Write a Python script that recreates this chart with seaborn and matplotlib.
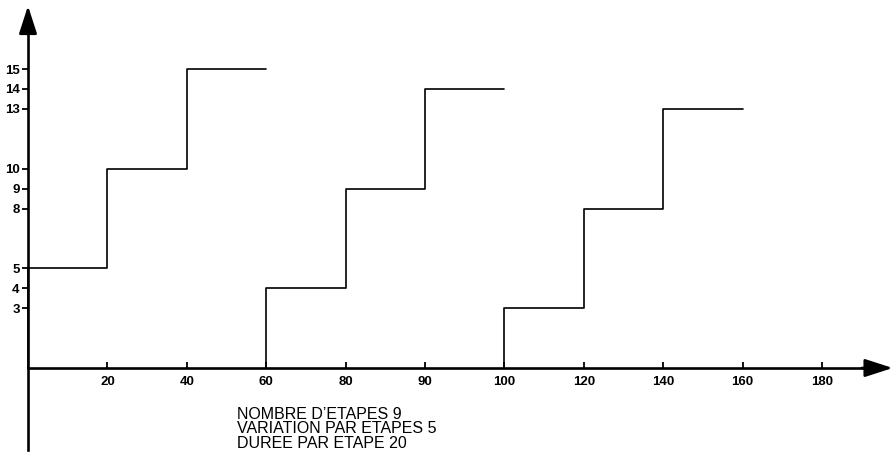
import pandas as pd
import seaborn as sns
import matplotlib.pyplot as plt

# Step data: start of each step and the level held during it
step_starts = [0, 20, 40, 60, 80, 100, 120, 140, 160]
step_levels = [5, 10, 15, 4, 9, 14, 3, 8, 13]
step_group = [1, 1, 1, 2, 2, 2, 3, 3, 3]
step_width = 20

x_ticks = [20, 40, 60, 80, 100, 120, 140, 160, 180, 200]
x_tick_labels = ['20', '40', '60', '80', '90', '100', '120', '140', '160', '180']
y_ticks = [3, 4, 5, 8, 9, 10, 13, 14, 15]

notes = ["NOMBRE D\u2019ETAPES 9", "VARIATION PAR ETAPES 5", "DUREE PAR ETAPE 20"]

sns.set_theme(style='white')
plt.rcParams['font.family'] = ['Liberation Sans', 'DejaVu Sans']

fig = plt.figure(figsize=(8.93, 4.65), dpi=100)
ax = fig.add_axes([0, 0, 1, 1])

# build one staircase per group (rise from 0, then steps, then hold last level)
steps = pd.DataFrame({'start': step_starts, 'level': step_levels, 'group': step_group})
for g, sub in steps.groupby('group'):
    xs = [sub['start'].iloc[0]] + list(sub['start']) + [sub['start'].iloc[-1] + step_width]
    ys = [0] + list(sub['level']) + [sub['level'].iloc[-1]]
    df = pd.DataFrame({'x': xs, 'y': ys})
    sns.lineplot(data=df, x='x', y='y', estimator=None, sort=False,
                 drawstyle='steps-post', color='black', lw=1.2, ax=ax)

# map pixels: x=0 at 28px (3.97 px/unit), y=0 at 368px (19.93 px/unit)
ax.set_xlim(-28 / 3.97, (893 - 28) / 3.97)
ax.set_ylim((368 - 465) / 19.93, 368 / 19.93)
ax.set_xlabel('')
ax.set_ylabel('')

for s in ['top', 'right']:
    ax.spines[s].set_visible(False)
ax.spines['left'].set_position(('data', 0))
ax.spines['bottom'].set_position(('data', 0))
ax.spines['left'].set_bounds(-4.1, 17.4)
ax.spines['bottom'].set_bounds(0, 212)
for s in ['left', 'bottom']:
    ax.spines[s].set_linewidth(1.9)
    ax.spines[s].set_color('black')

# arrow heads at the ends of the axes
head = dict(arrowstyle='-|>,head_length=1.7,head_width=0.55',
            color='black', lw=1.9, mutation_scale=10, shrinkA=0, shrinkB=0)
ax.annotate('', xy=(0, 18.17), xytext=(0, 17.0), arrowprops=head)
ax.annotate('', xy=(217.8, 0), xytext=(210, 0), arrowprops=head)

ax.set_xticks(x_ticks)
ax.set_xticklabels(x_tick_labels)
ax.set_yticks(y_ticks)
ax.set_yticklabels([str(v) for v in y_ticks])
ax.tick_params(axis='x', direction='in', length=4, width=1.3, pad=6,
               labelsize=9.5, bottom=True, colors='black')
ax.tick_params(axis='y', direction='out', length=4, width=1.3, pad=2,
               labelsize=9.5, left=True, colors='black')
for lab in ax.get_xticklabels() + ax.get_yticklabels():
    lab.set_fontweight('bold')

for i, line in enumerate(notes):
    fig.text(237 / 893, 1 - (419 + 14.3 * i) / 465, line, fontsize=11.5,
             ha='left', va='baseline', color='black')

ax.set_facecolor('white')
fig.savefig('out.png', dpi=100, facecolor='white')
